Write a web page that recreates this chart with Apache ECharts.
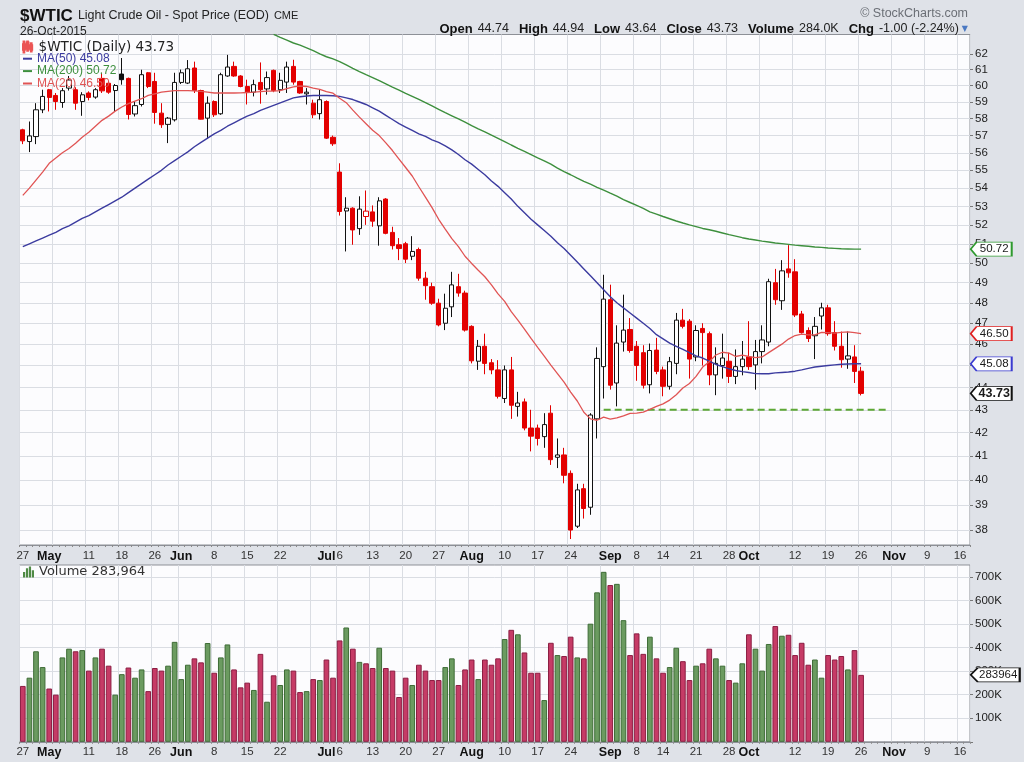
<!DOCTYPE html>
<html><head><meta charset="utf-8">
<script src="https://cdn.jsdelivr.net/npm/echarts@6/dist/echarts.min.js"></script>
<style>html,body{margin:0;padding:0;background:#dfe2e8;}#c{width:1024px;height:762px;}</style>
</head><body><div id="c"></div>
<script>
// ---------- DATA ----------
const dates = ['04-27','04-28','04-29','04-30','05-01','05-04','05-05','05-06','05-07','05-08','05-11','05-12','05-13','05-14','05-15','05-18','05-19','05-20','05-21','05-22','05-26','05-27','05-28','05-29',
'06-01','06-02','06-03','06-04','06-05','06-08','06-09','06-10','06-11','06-12','06-15','06-16','06-17','06-18','06-19','06-22','06-23','06-24','06-25','06-26','06-29','06-30',
'07-01','07-02','07-06','07-07','07-08','07-09','07-10','07-13','07-14','07-15','07-16','07-17','07-20','07-21','07-22','07-23','07-24','07-27','07-28','07-29','07-30','07-31',
'08-03','08-04','08-05','08-06','08-07','08-10','08-11','08-12','08-13','08-14','08-17','08-18','08-19','08-20','08-21','08-24','08-25','08-26','08-27','08-28','08-31',
'09-01','09-02','09-03','09-04','09-08','09-09','09-10','09-11','09-14','09-15','09-16','09-17','09-18','09-21','09-22','09-23','09-24','09-25','09-28','09-29','09-30',
'10-01','10-02','10-05','10-06','10-07','10-08','10-09','10-12','10-13','10-14','10-15','10-16','10-19','10-20','10-21','10-22','10-23','10-26','10-27','10-28','10-29','10-30',
'11-02','11-03','11-04','11-05','11-06','11-09','11-10','11-11','11-12','11-13','11-16','11-17'];

const opens = [57.34,56.65,56.94,58.53,59.75,59.40,58.97,59.85,59.75,59.03,59.55,59.30,60.45,60.15,59.70,60.72,60.45,58.28,58.85,60.80,
60.26,58.33,57.66,57.93,60.20,60.16,61.10,59.70,58.03,59.03,58.29,60.60,61.20,60.60,59.95,59.60,60.20,59.80,60.95,59.75,
60.22,61.20,60.26,59.50,58.93,58.30,59.03,56.90,54.90,52.75,52.90,51.80,52.45,52.70,51.95,53.40,51.60,50.95,51.00,50.35,
50.70,49.23,48.80,47.98,47.00,47.80,48.80,48.48,46.85,45.20,45.90,45.13,44.80,43.50,44.80,43.15,43.35,42.20,42.20,41.83,
42.85,40.95,41.05,40.28,38.15,39.65,38.90,42.60,44.95,48.15,44.20,46.10,46.70,45.90,45.60,44.12,45.72,44.80,44.05,45.10,
47.15,47.10,45.40,46.75,46.50,44.57,45.00,45.20,44.50,44.95,45.40,45.03,45.65,46.10,49.00,48.10,49.70,49.55,47.45,46.65,
46.40,47.35,47.75,46.55,45.90,45.30,45.40,44.74];
const highs = [57.40,57.83,58.93,59.75,59.80,59.55,59.85,60.60,59.90,59.60,59.65,59.85,60.80,60.30,60.10,61.73,60.50,59.03,60.99,60.85,
60.80,58.93,58.10,60.80,61.00,61.60,61.50,59.75,59.34,59.10,60.80,61.93,61.50,60.65,60.37,60.37,61.45,60.88,61.00,60.80,
61.50,61.62,60.30,59.85,59.14,59.75,59.10,57.00,55.40,53.50,52.95,53.55,53.87,53.05,53.50,53.45,51.90,51.30,51.10,51.40,
50.80,49.55,49.00,48.20,48.45,49.55,49.45,48.60,46.90,46.20,46.50,45.30,45.25,45.00,45.40,43.80,43.50,43.00,42.35,42.85,
43.20,41.75,41.35,40.40,39.85,39.85,42.85,45.85,49.40,48.90,46.90,48.40,47.25,46.15,45.95,46.03,46.30,44.95,45.40,47.50,
47.70,47.20,46.90,47.00,46.60,45.85,46.50,45.60,45.75,46.15,47.10,46.20,46.90,49.20,49.70,50.15,50.93,50.20,47.60,46.80,
47.30,48.00,47.90,47.10,46.60,46.60,45.95,44.94];
const lows = [56.50,56.04,56.50,58.33,58.43,58.53,58.65,59.70,58.53,58.17,59.10,59.20,59.55,59.50,58.43,60.06,57.95,58.13,58.73,59.85,
57.70,57.45,56.56,57.83,60.10,60.10,59.55,57.95,56.80,58.10,58.23,60.55,60.55,59.90,58.85,59.34,58.90,59.45,59.60,59.55,
59.55,60.06,59.50,58.85,58.03,57.95,56.80,56.40,52.50,50.60,50.95,51.47,52.00,51.90,50.90,51.50,50.70,50.15,50.00,50.15,
49.10,48.15,47.90,46.85,46.67,47.30,48.30,46.60,45.10,44.80,44.60,44.60,43.50,43.30,42.60,42.70,42.10,41.20,41.45,41.35,
40.63,40.50,39.87,37.65,38.08,38.45,38.60,41.75,43.50,43.90,43.15,45.65,45.60,44.30,43.95,43.73,44.60,43.60,43.90,44.60,
46.75,44.40,45.20,45.00,44.10,43.65,44.40,44.20,44.15,44.55,44.80,43.90,45.10,45.90,47.90,47.65,49.25,47.30,46.50,46.10,
45.30,46.70,46.40,45.70,44.90,44.85,44.20,43.64];
const closes = [56.69,56.98,58.53,59.34,59.28,59.03,59.69,60.35,58.93,59.44,59.28,59.75,59.68,59.60,60.01,60.37,58.25,58.78,60.68,59.95,
58.37,57.64,58.03,60.20,60.80,61.05,59.70,57.97,58.93,58.23,60.68,61.16,60.60,59.95,59.60,60.06,59.75,60.50,59.70,60.33,
61.16,60.22,59.55,59.60,58.23,59.14,56.85,56.52,52.72,52.90,51.73,52.85,52.74,52.20,53.30,51.55,50.90,50.75,50.20,50.60,
49.23,48.85,47.98,46.92,47.73,48.89,48.48,46.67,45.22,45.90,45.10,44.80,43.60,44.80,43.20,43.30,42.20,41.85,41.75,42.35,
40.85,41.05,40.20,38.00,39.60,38.85,42.77,45.33,48.18,44.10,46.05,46.67,45.70,45.00,44.10,45.70,44.73,44.05,45.18,47.15,
46.85,45.30,46.65,46.55,44.57,45.10,45.35,44.50,44.95,45.30,44.95,45.65,46.20,49.05,48.15,49.60,49.50,47.40,46.55,46.27,
46.85,47.75,46.50,45.90,45.27,45.45,44.73,43.73];
const volumes = [237000,272000,384000,317000,226000,200000,358000,395000,384000,389000,302000,358000,395000,323000,200000,287000,315000,272000,307000,215000,
313000,302000,323000,424000,266000,327000,354000,337000,419000,293000,358000,413000,307000,231000,251000,220000,373000,170000,282000,241000,
307000,302000,211000,215000,266000,262000,349000,272000,430000,485000,395000,339000,333000,313000,399000,313000,302000,190000,272000,241000,
327000,302000,262000,262000,317000,354000,241000,307000,349000,266000,349000,327000,354000,436000,475000,456000,379000,293000,293000,177000,
420000,368000,364000,446000,358000,354000,501000,634000,721000,665000,670000,516000,368000,460000,373000,446000,354000,293000,317000,399000,
342000,262000,323000,333000,395000,354000,323000,262000,251000,333000,456000,395000,302000,415000,491000,450000,454000,368000,420000,327000,
349000,272000,368000,349000,364000,307000,389000,283964];
const ma20 = [53.6,54.0,54.45,54.9,55.4,55.7,56.0,56.25,56.55,56.9,57.2,57.55,57.9,58.15,58.45,58.7,58.9,59.05,59.2,59.4,
59.5,59.6,59.65,59.7,59.7,59.7,59.68,59.65,59.6,59.55,59.55,59.55,59.55,59.56,59.58,59.6,59.63,59.66,59.66,59.7,
59.82,59.93,59.98,59.95,59.85,59.77,59.64,59.54,59.23,58.96,58.51,58.09,57.70,57.31,57.00,56.57,56.13,55.64,55.16,54.68,
54.08,53.51,52.93,52.30,51.78,51.27,50.85,50.35,49.98,49.63,49.30,48.89,48.44,48.07,47.56,47.15,46.72,46.27,45.85,45.44,
45.02,44.63,44.24,43.79,43.39,42.89,42.60,42.54,42.68,42.59,42.64,42.73,42.84,42.85,42.90,43.02,43.15,43.26,43.43,43.67,
43.97,44.18,44.50,44.93,45.18,45.49,45.62,45.58,45.42,45.48,45.42,45.37,45.40,45.60,45.80,46.00,46.24,46.41,46.48,46.44,
46.44,46.56,46.55,46.52,46.56,46.58,46.55,46.50];
const ma50 = [50.85,51.0,51.15,51.3,51.45,51.6,51.8,51.95,52.15,52.35,52.5,52.7,52.9,53.1,53.3,53.5,53.75,54.0,54.25,54.5,
54.75,55.0,55.3,55.55,55.8,56.05,56.35,56.6,56.85,57.1,57.3,57.55,57.75,57.95,58.15,58.3,58.5,58.65,58.8,58.95,
59.1,59.25,59.32,59.37,59.4,59.4,59.4,59.38,59.34,59.25,59.15,59.0,58.85,58.65,58.45,58.2,57.95,57.7,57.5,57.3,
57.1,56.95,56.75,56.6,56.4,56.17,55.9,55.6,55.35,55.05,54.75,54.4,54.1,53.75,53.4,53.0,52.65,52.3,52.0,51.7,
51.4,51.05,50.75,50.4,50.05,49.7,49.35,49.0,48.65,48.3,48.0,47.75,47.5,47.25,47.0,46.75,46.45,46.25,46.05,45.9,
45.75,45.6,45.45,45.35,45.2,45.05,44.95,44.85,44.77,44.72,44.68,44.63,44.62,44.62,44.66,44.68,44.7,44.74,44.8,44.87,
44.93,44.97,45.0,45.03,45.06,45.07,45.08,45.08];
const ma200 = [null,null,null,null,null,null,null,null,null,null,null,null,null,null,null,null,null,null,null,null,
null,null,null,null,null,null,null,null,null,null,null,null,null,null,null,null,null,null,
63.25,63.06,62.88,62.69,62.55,62.38,62.2,62.0,61.81,61.67,
61.5,61.29,61.07,60.87,60.68,60.5,60.31,60.11,59.91,59.72,
59.52,59.34,59.16,58.96,58.76,58.56,58.36,58.17,57.98,57.79,
57.59,57.4,57.22,57.03,56.84,56.65,56.45,56.26,56.08,55.9,
55.71,55.53,55.35,55.12,54.93,54.75,54.56,54.38,54.22,54.05,
53.89,53.72,53.56,53.37,53.21,53.05,52.89,52.7,52.58,52.45,
52.33,52.21,52.1,52.0,51.91,51.81,51.74,51.66,51.57,51.48,
51.4,51.32,51.25,51.2,51.14,51.09,51.04,51.01,50.97,50.93,
50.9,50.87,50.83,50.81,50.78,50.76,50.74,50.73,50.72,50.72];
const supportLevel = 43.0, supportFrom = '08-31', supportTo = '10-30';
const priceTicks = [38,39,40,41,42,43,44,45,46,47,48,49,50,51,52,53,54,55,56,57,58,59,60,61,62];
const volumeTicks = [100000,200000,300000,400000,500000,600000,700000];
const volumeGrid = [0,100000,200000,300000,400000,500000,600000,700000];
const tickDates = ['04-27','05-01','05-11','05-18','05-26','06-01','06-08','06-15','06-22','07-01','07-06','07-13','07-20','07-27','08-03','08-10','08-17','08-24','09-01','09-08','09-14','09-21','09-28','10-01','10-12','10-19','10-26','11-02','11-09','11-16'];
const tickTexts = ['27','May','11','18','26','Jun','8','15','22','Jul','6','13','20','27','Aug','10','17','24','Sep','8','14','21','28','Oct','12','19','26','Nov','9','16'];
const weekStarts = ['04-27','05-04','05-11','05-18','05-26','06-01','06-08','06-15','06-22','06-29','07-06','07-13','07-20','07-27','08-03','08-10','08-17','08-24','08-31','09-08','09-14','09-21','09-28','10-05','10-12','10-19','10-26','11-02','11-09','11-16'];
const monthNames = ['May','Jun','Jul','Aug','Sep','Oct','Nov'];

// ---------- CHART ----------
const FONT = 'Liberation Sans, Arial, sans-serif';
const RED = '#e30000', BLACK = '#111111';
const C50 = '#3b3b9f', C200 = '#3d8f3d', C20 = '#e05454';
const VG = '#6b9b60', VGB = '#3e6c36', VR = '#c63b66', VRB = '#8c1d42';
const LOG = v => (v == null ? null : Math.log10(v));
const last = closes.length - 1;
const endDate = dates[dates.length - 1];
const isUp = i => i > 0 && closes[i] >= closes[i - 1];

const candleData = closes.map((c, i) => {
  const col = isUp(i) ? BLACK : RED;
  const fill = c >= opens[i] ? '#ffffff' : col;
  return { value: [LOG(opens[i]), LOG(c), LOG(lows[i]), LOG(highs[i])],
    itemStyle: { color: fill, color0: fill, borderColor: col, borderColor0: col } };
});
const volData = volumes.map((v, i) => ({ value: v,
  itemStyle: { color: isUp(i) ? VG : VR, borderColor: isUp(i) ? VGB : VRB } }));
const supportData = dates.map(d => (d >= supportFrom && d <= supportTo) ? LOG(supportLevel) : null);

function tag(yValue, text, border, w, bold) {
  return {
    silent: true, symbol: 'path://M0,7L6,0H42V14H6Z', symbolSize: [w, 14], symbolKeepAspect: false,
    symbolOffset: [w / 2 + 4, 0],
    itemStyle: { color: '#ffffff', borderColor: border, borderWidth: 1.2 },
    label: { show: true, position: 'inside', offset: [3, 0], formatter: () => text, color: '#1a1a1a',
      fontFamily: FONT, fontSize: bold ? 12.5 : 11.5, fontWeight: bold ? 'bold' : 'normal' },
    data: [{ coord: [endDate, yValue] }]
  };
}

const lastVal = { '$WTIC (Daily)': closes[last], 'MA(50)': ma50[last], 'MA(200)': ma200[last], 'MA(20)': ma20[last] };
const chg = closes[last] - closes[last - 1];
const chgPct = chg / closes[last - 1] * 100;

const xLabel = {
  interval: (i, v) => tickDates.indexOf(v) >= 0,
  formatter: v => { const t = tickTexts[tickDates.indexOf(v)]; return monthNames.indexOf(t) >= 0 ? '{m|' + t + '}' : '{d|' + t + '}'; },
  rich: { m: { fontFamily: FONT, fontSize: 12.5, fontWeight: 'bold', color: '#111' },
          d: { fontFamily: FONT, fontSize: 11.5, color: '#333' } }
};
function xAxis(gi, margin) {
  return { type: 'category', gridIndex: gi, data: dates, boundaryGap: true,
    axisLine: { show: true, lineStyle: { color: '#8d9097', width: 1 } },
    axisTick: { show: true, interval: 0, length: 2, lineStyle: { color: '#8a8a8a' } },
    axisLabel: Object.assign({ margin: margin }, xLabel),
    splitLine: { show: true, interval: (i, v) => weekStarts.indexOf(v) >= 0, lineStyle: { color: '#dadde3', width: 1 } } };
}

const option = {
  animation: false,
  backgroundColor: '#dfe2e8',
  title: [
    { left: 20, top: 6, padding: 0,
      text: '{a|$WTIC} {b|Light Crude Oil - Spot Price (EOD)} {c|CME}',
      textStyle: { fontWeight: 'normal', rich: { a: { fontFamily: FONT, fontSize: 17, fontWeight: 'bold', color: '#111', lineHeight: 20 },
        b: { fontFamily: FONT, fontSize: 12.5, fontWeight: 'normal', color: '#222', lineHeight: 20 },
        c: { fontFamily: FONT, fontSize: 11, fontWeight: 'normal', color: '#222', lineHeight: 20 } } } },
    { left: 20, top: 26, padding: 0, text: '26-Oct-2015',
      textStyle: { fontFamily: FONT, fontSize: 12, fontWeight: 'normal', color: '#222' } },
    { right: 56, top: 7, padding: 0, text: '\u00a9 StockCharts.com',
      textStyle: { fontFamily: FONT, fontSize: 12.5, fontWeight: 'normal', color: '#6b6f76' } },
    { right: 56, top: 20, padding: 0,
      text: '{l|Open} {v|' + opens[last].toFixed(2) + '}  {l|High} {v|' + highs[last].toFixed(2) + '}  {l|Low} {v|' + lows[last].toFixed(2) +
        '}  {l|Close} {v|' + closes[last].toFixed(2) + '}  {l|Volume} {v|' + (volumes[last] / 1000).toFixed(1) + 'K}  {l|Chg} {v|' +
        chg.toFixed(2) + ' (' + chgPct.toFixed(2) + '%)}{t|\u25BC}',
      textStyle: { fontWeight: 'normal', rich: { l: { fontFamily: FONT, fontSize: 13, fontWeight: 'bold', color: '#111' },
        v: { fontFamily: FONT, fontSize: 12.5, fontWeight: 'normal', color: '#222' },
        t: { fontFamily: 'DejaVu Sans', fontSize: 8, fontWeight: 'normal', color: '#4a78c2', padding: [0, 0, 0, 3] } } } }
  ],
  legend: [
    { left: 22, top: 40, padding: 0, orient: 'vertical', selectedMode: false, itemWidth: 12, itemHeight: 11,
      data: [{ name: '$WTIC (Daily)', icon: 'path://M1,3h2v6h-2z M1.6,0h0.8v12h-0.8z M5,1h2v7h-2z M5.6,0h0.8v10h-0.8z M9,4h2v5h-2z M9.6,2h0.8v9h-0.8z',
        itemStyle: { color: '#111' } }],
      formatter: n => n + ' ' + lastVal[n].toFixed(2),
      textStyle: { fontFamily: 'DejaVu Sans', fontSize: 13.5, color: '#222', lineHeight: 12.5 } },
    { left: 23, top: 52.5, padding: 0, orient: 'vertical', selectedMode: false, itemWidth: 9, itemHeight: 2, itemGap: 0,
      data: [{ name: 'MA(50)', icon: 'rect', textStyle: { color: C50 } },
             { name: 'MA(200)', icon: 'rect', textStyle: { color: C200 } },
             { name: 'MA(20)', icon: 'rect', textStyle: { color: C20 } }],
      formatter: n => n + ' ' + lastVal[n].toFixed(2),
      textStyle: { fontFamily: FONT, fontSize: 12, lineHeight: 12.4 } },
    { left: 23, top: 565.5, padding: 0, orient: 'vertical', selectedMode: false, itemWidth: 11, itemHeight: 11,
      data: [{ name: 'Volume', icon: 'path://M0,6h2.4v6h-2.4z M3.2,2h2.4v10h-2.4z M6.4,0h2.4v12h-2.4z M9.6,4h2.4v8h-2.4z', itemStyle: { color: '#4f8a45' } }],
      formatter: n => n + ' ' + volumes[last].toLocaleString('en-US'),
      textStyle: { fontFamily: 'DejaVu Sans', fontSize: 13, color: '#333', lineHeight: 13 } }
  ],
  grid: [
    { left: 19.5, right: 54, top: 34.5, height: 510.5, show: true, backgroundColor: '#fcfcfe', borderColor: '#8d9097', borderWidth: 1 },
    { left: 19.5, right: 54, top: 565, height: 176.8, show: true, backgroundColor: '#fcfcfe', borderColor: '#8d9097', borderWidth: 1 }
  ],
  xAxis: [xAxis(0, 5), xAxis(1, 4)],
  yAxis: [
    { type: 'value', gridIndex: 0, position: 'right', min: Math.log10(37.42), max: Math.log10(63.24),
      axisLine: { show: false },
      axisTick: { show: true, length: 3, customValues: priceTicks.map(LOG), lineStyle: { color: '#777' } },
      axisLabel: { customValues: priceTicks.map(LOG), margin: 5, formatter: v => String(Math.round(Math.pow(10, v))),
        fontFamily: FONT, fontSize: 11.5, color: '#222' },
      splitLine: { show: true, lineStyle: { color: '#dadde3', width: 1 } } },
    { type: 'value', gridIndex: 1, position: 'right', min: 0, max: 750000,
      axisLine: { show: false },
      axisTick: { show: true, length: 3, customValues: volumeGrid, lineStyle: { color: '#777' } },
      axisLabel: { customValues: volumeTicks, margin: 5, formatter: v => (v / 1000) + 'K',
        fontFamily: FONT, fontSize: 11.5, color: '#222' },
      splitLine: { show: true, lineStyle: { color: '#dadde3', width: 1 } } }
  ],
  series: [
    { name: '$WTIC (Daily)', type: 'candlestick', xAxisIndex: 0, yAxisIndex: 0, data: candleData, barWidth: '72%', z: 3,
      itemStyle: { borderWidth: 1 }, markPoint: tag(LOG(closes[last]), closes[last].toFixed(2), '#111', 41, true) },
    { name: 'MA(50)', type: 'line', xAxisIndex: 0, yAxisIndex: 0, data: ma50.map(LOG), showSymbol: false, symbol: 'none', z: 4,
      lineStyle: { color: C50, width: 1.4 }, itemStyle: { color: C50 }, markPoint: tag(LOG(ma50[last]), ma50[last].toFixed(2), '#3b3bd0', 41, false) },
    { name: 'MA(200)', type: 'line', xAxisIndex: 0, yAxisIndex: 0, data: ma200.map(LOG), showSymbol: false, symbol: 'none', z: 4,
      lineStyle: { color: C200, width: 1.4 }, itemStyle: { color: C200 }, markPoint: tag(LOG(ma200[last]), ma200[last].toFixed(2), '#2f9a2f', 41, false) },
    { name: 'MA(20)', type: 'line', xAxisIndex: 0, yAxisIndex: 0, data: ma20.map(LOG), showSymbol: false, symbol: 'none', z: 4,
      lineStyle: { color: C20, width: 1.3 }, itemStyle: { color: C20 }, markPoint: tag(LOG(ma20[last]), ma20[last].toFixed(2), '#e02020', 41, false) },
    { name: 'Support', type: 'line', xAxisIndex: 0, yAxisIndex: 0, data: supportData, showSymbol: false, symbol: 'none', z: 2,
      lineStyle: { color: '#5ea836', width: 2, type: [7, 4] } },
    { name: 'Volume', type: 'bar', xAxisIndex: 1, yAxisIndex: 1, data: volData, barWidth: '86%', z: 3,
      itemStyle: { borderWidth: 1 }, markPoint: tag(volumes[last], String(volumes[last]), '#111', 49, false) }
  ]
};
const chart = echarts.init(document.getElementById('c'));
chart.setOption(option);
</script></body></html>
